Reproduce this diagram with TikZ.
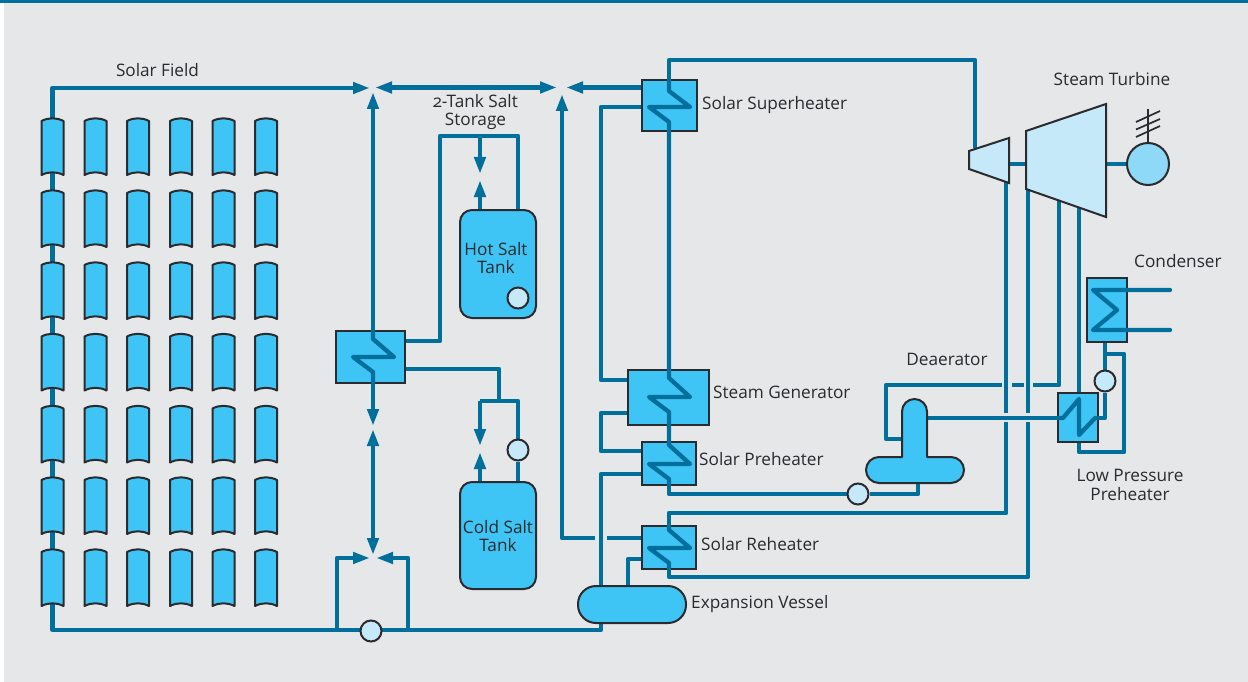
\documentclass[tikz,border=0pt]{standalone}
\usepackage{fontspec}
\setmainfont{Open Sans}
\usetikzlibrary{arrows.meta}
\definecolor{panel}{HTML}{E6E7E9}
\definecolor{pipe}{HTML}{006F9C}
\definecolor{cyanfill}{HTML}{3EC5F5}
\definecolor{palefill}{HTML}{C6E9FA}
\definecolor{genfill}{HTML}{8ED8F8}
\definecolor{ink}{HTML}{2B2A2E}
\pgfdeclarelayer{backdrop}
\pgfdeclarelayer{pipes}
\pgfsetlayers{backdrop,pipes,main}
\tikzset{
  pipeline/.style={draw=pipe,line width=4.3pt,line join=round},
  flow/.style={pipeline,-{Triangle[length=17pt,width=11pt]}},
  coilline/.style={draw=pipe,line width=4.3pt,line join=round,line cap=round},
  part/.style={draw=ink,fill=cyanfill,line width=2pt,inner sep=0pt},
  hxbox/.style={part,rectangle},
  tank/.style={part,rectangle,rounded corners=12pt,minimum width=76pt},
  pump/.style={draw=ink,fill=palefill,line width=2pt,circle,minimum size=21pt,inner sep=0pt},
  lbl/.style={font=\fontsize{17.2}{18.7}\selectfont,text=ink,inner sep=0pt,align=center},
  lblr/.style={lbl,anchor=west},
  collector/.style={draw=ink,fill=cyanfill,line width=2pt,line join=round},
  turb/.style={draw=ink,fill=palefill,line width=2pt,line join=miter},
}
\begin{document}
\begin{tikzpicture}[x=1pt,y=-1pt]
\useasboundingbox (0,0) rectangle (1248,682);
\begin{pgfonlayer}{backdrop}
\fill[white] (0,0) rectangle (1248,682);
\fill[panel] (4,3) rectangle (1248,682);
\fill[pipe] (0,0) rectangle (1248,3);
\end{pgfonlayer}

% collectors
\foreach \cx in {52.5,95.5,138,181,223.5,266}
 \foreach \ry in {118,190,262,333.5,405.5,477,549}
  \path[collector] (\cx-11,\ry+3) .. controls (\cx-4,\ry-0.6) and (\cx+4,\ry-0.6) .. (\cx+11,\ry+3)
     -- (\cx+11,\ry+57) .. controls (\cx+4,\ry+53.4) and (\cx-4,\ry+53.4) .. (\cx-11,\ry+57) -- cycle;

% equipment
\node[hxbox,minimum width=69pt,minimum height=52pt] (salthx) at (370.5,357) {};
\node[hxbox,minimum width=55pt,minimum height=51pt] (super) at (669.5,105.5) {};
\node[hxbox,minimum width=81pt,minimum height=55pt] (gen) at (668.5,397.5) {};
\node[hxbox,minimum width=54pt,minimum height=43pt] (pre) at (669,463.5) {};
\node[hxbox,minimum width=54pt,minimum height=43pt] (reh) at (669,547.5) {};
\node[hxbox,minimum width=40pt,minimum height=64pt] (cond) at (1107,310) {};
\node[hxbox,minimum width=40pt,minimum height=49pt] (lpp) at (1078,417.5) {};
\node[tank,minimum height=108pt] (hot) at (498,264) {};
\node[tank,minimum height=107pt] (cold) at (498,535.5) {};
\node[part,rectangle,rounded corners=18pt,minimum width=108pt,minimum height=37pt] (vessel) at (632,604.5) {};
\node[pump] (phot) at (518,298) {};
\node[pump] (pcold) at (518,450) {};
\node[pump] (pfield) at (371,631) {};
\node[pump] (pfeed) at (858,494) {};
\node[pump] (pcond) at (1105,381) {};
\node[draw=ink,fill=genfill,line width=2pt,circle,minimum size=42pt,inner sep=0pt] (gnr) at (1148,164) {};
\path[part,line join=round] (902,457) -- (902,411.5)
  .. controls (902,404.6) and (907.6,399) .. (914.5,399)
  .. controls (921.4,399) and (927,404.6) .. (927,411.5)
  -- (927,457) -- (951,457)
  .. controls (958.2,457) and (964,462.8) .. (964,470)
  .. controls (964,477.2) and (958.2,483) .. (951,483)
  -- (879,483)
  .. controls (871.8,483) and (866,477.2) .. (866,470)
  .. controls (866,462.8) and (871.8,457) .. (879,457) -- cycle;
\path[turb] (969,151) -- (1009,138) -- (1009,183) -- (969,169) -- cycle;
\path[turb] (1026,131) -- (1106,104) -- (1106,217) -- (1026,189) -- cycle;
\coordinate (hp) at (1009,164);
\coordinate (lp) at (1026,164);
\coordinate (lpr) at (1106,164);

\begin{pgfonlayer}{pipes}
 % solar field loop
 \draw[flow] (52.5,120) -- (52.5,88) -- (370,88);
 \draw[pipeline] (52.5,120) -- (52.5,600) -- (52.5,630) -- (601,630) -- (601,622);
 \draw[flow] (337,630) -- (337,558) -- (370,558);
 \draw[flow] (408,630) -- (408,558) -- (376,558);
 % verticals at the salt exchanger
 \draw[flow] (373,339) -- (373,92);
 \draw[flow] (373,372) -- (373,426);
 \draw[flow] (373,500) -- (373,429);
 \draw[flow] (373,500) -- (373,555);
 % header
 \draw[flow] (466,87.5) -- (375,87.5);
 \draw[flow] (466,87.5) -- (557,87.5);
 \draw[flow] (super.west |- 0,87.5) -- (566,87.5);
 \draw[flow] (595,538) -- (562,538) -- (562,94);
 \draw[pipeline] (607,538) -- (reh.west |- 0,538);
 % salt storage
 \draw[pipeline] (salthx.east |- 0,341) -- (440,341) -- (440,136) -- (518,136) -- (518,211);
 \draw[flow] (480,136) -- (480,174);
 \draw[flow] (480,211) -- (480,180);
 \draw[pipeline] (salthx.east |- 0,369) -- (499,369) -- (499,401);
 \draw[pipeline] (518,482) -- (pcold) -- (518,401) -- (480,401);
 \draw[flow] (480,401) -- (480,446);
 \draw[flow] (480,482) -- (480,452);
 % steam side
 \draw[pipeline] (super.west |- 0,107) -- (601,107) -- (601,380) -- (gen.west |- 0,380);
 \draw[pipeline] (gen.west |- 0,413) -- (601,413) -- (601,451) -- (pre.west |- 0,451);
 \draw[pipeline] (pre.west |- 0,474) -- (601,474) -- (601,590);
 \draw[pipeline] (reh.west |- 0,559) -- (628,559) -- (628,590);
 % turbine feeds
 \draw[pipeline] (669,91) -- (669,60) -- (975,60) -- (975,148);
 \draw[pipeline] (hp) -- (lp);
 \draw[pipeline] (lpr) -- (gnr);
 \draw[pipeline] (669,530) -- (669,513) -- (1006,513) -- (1006,422);
 \draw[pipeline] (1006,413) -- (1006,180);
 \draw[pipeline] (669,563) -- (669,577) -- (1028,577) -- (1028,422);
 \draw[pipeline] (1028,413) -- (1028,186);
 \draw[pipeline] (669,479) -- (669,494) -- (pfeed) -- (918,494) -- (918,480);
 % deaerator and preheater
 \draw[pipeline] (905,439) -- (886,439) -- (886,385) -- (1002,385);
 \draw[pipeline] (1012,385) -- (1024,385);
 \draw[pipeline] (1033,385) -- (1059,385) -- (1059,198);
 \draw[pipeline] (1079,204) -- (1079,452) -- (1124,452) -- (1124,354) -- (1105,354);
 \draw[pipeline] (925,418) -- (1063,418);
 \draw[pipeline] (1095,418) -- (1105,418) -- (pcond) -- (1105,342);
\end{pgfonlayer}

% heat-exchanger coils
\path[coilline] (373,331) -- (373,339) -- (394,357) -- (353,357) -- (373,372) -- (373,383);
\path[coilline] (669,80) -- (669,91) -- (690,107) -- (649,107) -- (669,122) -- (669,378) -- (690,397) -- (649,397) -- (669,412)
  -- (669,445) -- (690,464) -- (649,464) -- (669,479) -- (669,485);
\path[coilline] (669,526) -- (669,530) -- (690,548) -- (649,548) -- (669,563) -- (669,569);
\path[coilline] (1170,290) -- (1093,290) -- (1117,310) -- (1093,330) -- (1170,330);
\path[coilline] (1058,418) -- (1063,418) -- (1079,399) -- (1079,435) -- (1095,418) -- (1098,418);

% generator earth hatch
\draw[draw=ink,line width=1.7pt] (gnr.north) -- (1148,109);
\foreach \a/\b in {122/111,129.5/119,137/126}
  \draw[draw=ink,line width=1.7pt] (1136,\a) -- (1160,\b);

% labels
\node[lbl] (tfield) at (157.5,70) {Solar Field};
\node[lbl] (tstore) at (475.5,112) {{\addfontfeatures{Numbers=OldStyle}2}-Tank Salt\\Storage};
\node[lbl] (thot) at (496,258) {Hot Salt\\Tank};
\node[lbl] (tcold) at (498,536) {Cold Salt\\Tank};
\node[lblr] (tsuper) at (702,105) {Solar Superheater};
\node[lblr] (tgen) at (713,392.5) {Steam Generator};
\node[lblr] (tpre) at (699,459.5) {Solar Preheater};
\node[lblr] (treh) at (701,544.5) {Solar Reheater};
\node[lblr] (tves) at (691,604) {Expansion Vessel};
\node[lbl] (tturb) at (1112,79.5) {Steam Turbine};
\node[lblr] (tcond) at (1134,261.5) {Condenser};
\node[lbl] (tdea) at (947,359.5) {Deaerator};
\node[lbl] (tlpp) at (1130,485) {Low Pressure\\Preheater};
\end{tikzpicture}
\end{document}
